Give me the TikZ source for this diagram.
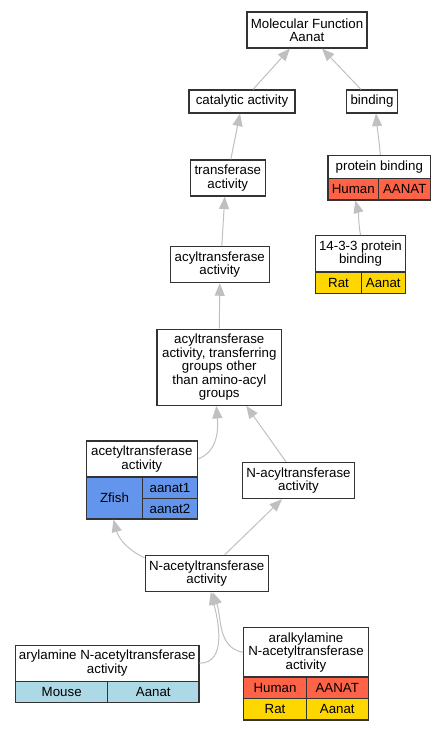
\documentclass[tikz,border=0pt]{standalone}
\usepackage{fontspec}
\setmainfont{Liberation Sans}
\usepackage{xcolor}
\usetikzlibrary{arrows.meta}
\definecolor{humancol}{HTML}{FF6347}
\definecolor{ratcol}{HTML}{FFD700}
\definecolor{fishcol}{HTML}{6495ED}
\definecolor{mousecol}{HTML}{ADD8E6}
\definecolor{isacol}{HTML}{C0C0C0}

\begin{document}
\begin{tikzpicture}[x=1pt,y=1pt,
  term/.style={draw=black!80, line width=1.1pt, fill=white, align=center, inner sep=0pt,
    font=\fontsize{13.3}{13.4}\selectfont},
  isa/.style={-{Triangle[length=12.5pt,width=10pt]}, draw=isacol, line width=1pt}]
\useasboundingbox (0,0) rectangle (445,-731);

\node[term, minimum width=120, minimum height=36] (mf) at (307,-30) {Molecular Function\\Aanat};
\node[term, minimum width=106, minimum height=23] (cat) at (242,-101.5) {catalytic activity};
\node[term, minimum width=51, minimum height=23] (bind) at (372,-101.5) {binding};
\node[term, minimum width=75, minimum height=36] (trans) at (227.8,-178) {transferase\\activity};
\node[term, minimum width=102.7, minimum height=23.3] (pbind) at (379.3,-167) {protein binding};
\node[term, fill=humancol, minimum width=50.7, minimum height=21.3] (pbindh) at (353.3,-189.3) {Human};
\node[term, fill=humancol, minimum width=52, minimum height=21.3] (pbindg) at (404.7,-189.3) {AANAT};
\node[term, minimum width=99, minimum height=36] (acyl) at (219.8,-264.7) {acyltransferase\\activity};
\node[term, minimum width=89.7, minimum height=36.3] (p1433) at (360.5,-253.8) {14-3-3 protein\\binding};
\node[term, fill=ratcol, minimum width=45.7, minimum height=21.3] (p1433r) at (338.5,-282.7) {Rat};
\node[term, fill=ratcol, minimum width=44, minimum height=21.3] (p1433g) at (383.3,-282.7) {Aanat};
\node[term, minimum width=124.7, minimum height=76.3] (acylother) at (219.3,-367.2) {acyltransferase\\activity, transferring\\groups other\\than amino-acyl\\groups};
\node[term, minimum width=111, minimum height=36] (acetyl) at (141.8,-459) {acetyltransferase\\activity};
\node[term, fill=fishcol, minimum width=56.4, minimum height=42] (acetylz) at (114.5,-498) {Zfish};
\node[term, fill=fishcol, minimum width=54.7, minimum height=21.7] (acetylg1) at (170,-487.8) {aanat1};
\node[term, fill=fishcol, minimum width=54.7, minimum height=20.3] (acetylg2) at (170,-508.8) {aanat2};
\node[term, minimum width=112.3, minimum height=36.3] (nacyl) at (298.5,-480.5) {N-acyltransferase\\activity};
\node[term, minimum width=123.3, minimum height=36.3] (nacetyl) at (206.7,-573.5) {N-acetyltransferase\\activity};
\node[term, minimum width=183.3, minimum height=36.3] (aryl) at (107.3,-663.2) {arylamine N-acetyltransferase\\activity};
\node[term, fill=mousecol, minimum width=92, minimum height=21.3] (arylm) at (61.7,-692) {Mouse};
\node[term, fill=mousecol, minimum width=91.3, minimum height=21.3] (arylg) at (153.3,-692) {Aanat};
\node[term, minimum width=124.7, minimum height=49.3] (aralk) at (306,-652.3) {aralkylamine\\N-acetyltransferase\\activity};
\node[term, fill=humancol, minimum width=62.7, minimum height=21.7] (aralkh) at (275,-687.8) {Human};
\node[term, fill=humancol, minimum width=62, minimum height=21.7] (aralkhg) at (337.3,-687.8) {AANAT};
\node[term, fill=ratcol, minimum width=62.7, minimum height=21.3] (aralkr) at (275,-709.3) {Rat};
\node[term, fill=ratcol, minimum width=62, minimum height=21.3] (aralkrg) at (337.3,-709.3) {Aanat};

\draw[isa] ([xshift=11pt]cat.north) -- ([xshift=-17pt]mf.south);
\draw[isa] ([xshift=-11pt]bind.north) -- ([xshift=15pt]mf.south);
\draw[isa] ([xshift=3pt]trans.north) -- ([xshift=-2pt]cat.south);
\draw[isa] ([xshift=1pt]pbind.north) to[out=95,in=-85] ([xshift=4pt]bind.south);
\draw[isa] (p1433.north) to[out=100,in=-75] ([xshift=2pt]pbindh.south);
\draw[isa] ([xshift=2pt]acyl.north) -- ([xshift=-3pt]trans.south);
\draw[isa] (acylother.north) -- (acyl.south);
\draw[isa] (acetyl.east) to[out=20,in=-85] ([xshift=-3pt]acylother.south);
\draw[isa] ([xshift=-12.5pt]nacyl.north) -- ([xshift=27pt]acylother.south);
\draw[isa] ([yshift=-3pt]nacetyl.north west) to[out=155,in=-75] ([xshift=-1pt]acetylz.south);
\draw[isa] ([xshift=18pt]nacetyl.north) -- ([xshift=-16.5pt]nacyl.south);
\draw[isa] (aryl.east) to[out=0,in=-75] ([xshift=4pt]nacetyl.south);
\draw[isa] (aralk.west) to[out=170,in=-70] ([xshift=6pt]nacetyl.south);
\end{tikzpicture}
\end{document}
